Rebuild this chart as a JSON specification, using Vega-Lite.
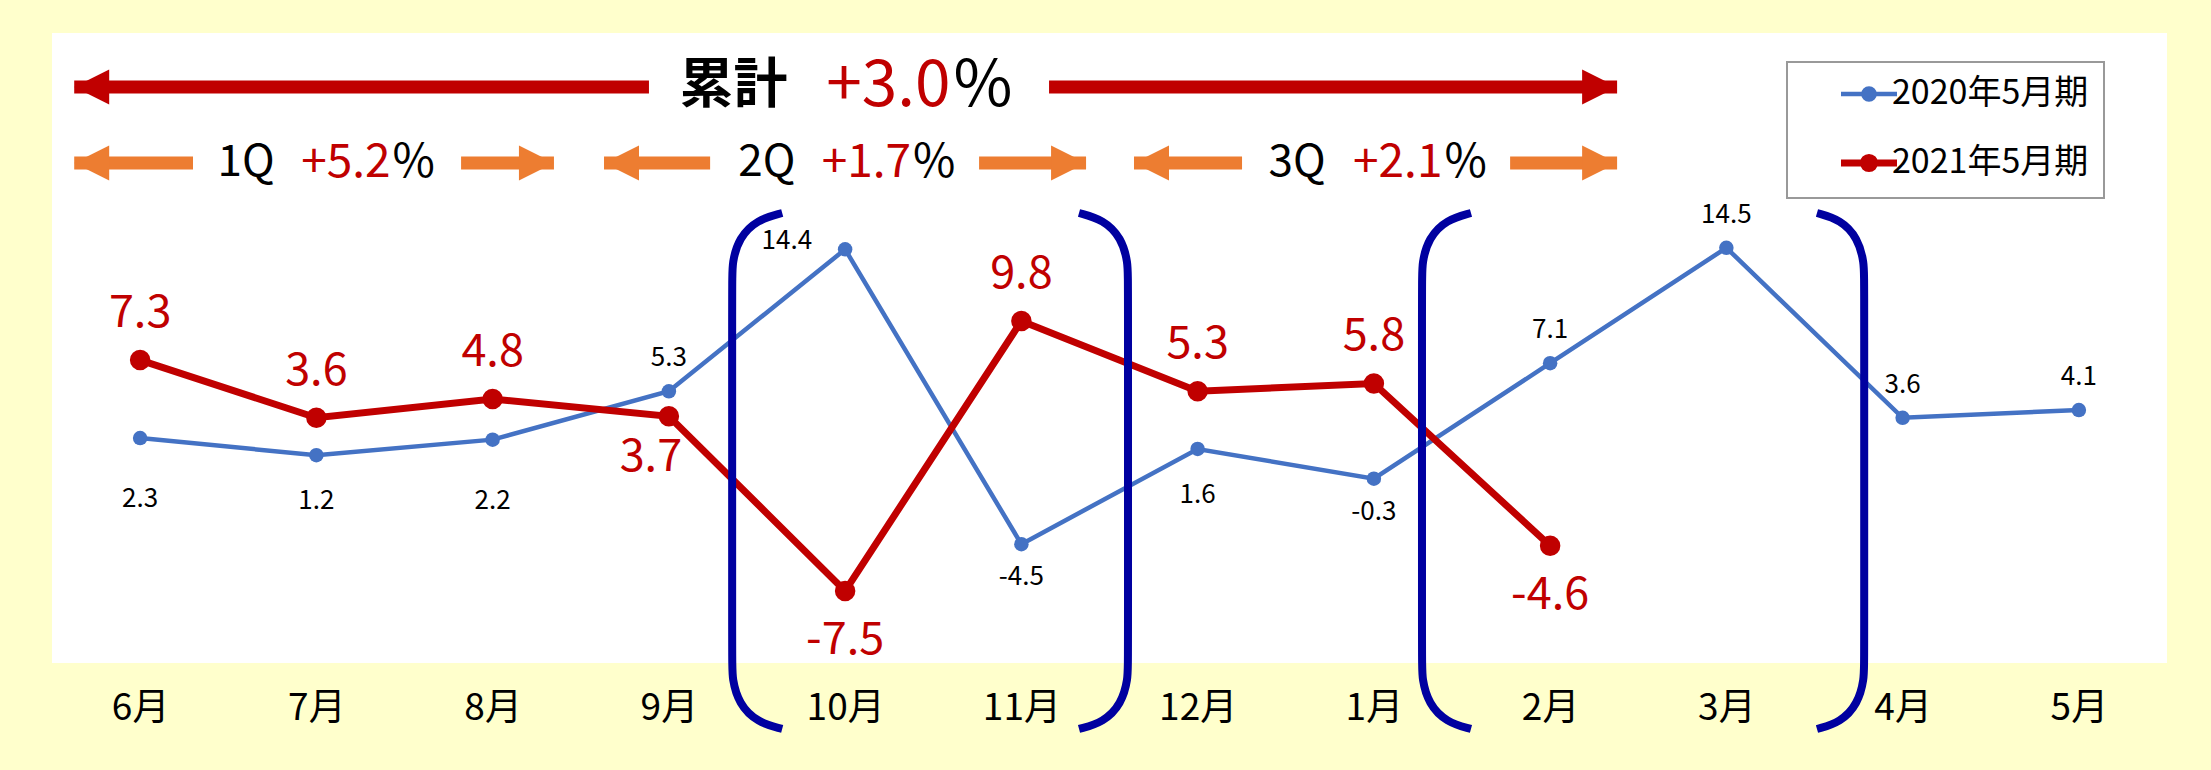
{
  "$schema": "https://vega.github.io/schema/vega-lite/v6.json",
  "width": 2115,
  "height": 630,
  "autosize": {"type": "none"},
  "padding": {"left": 52, "top": 33, "right": 44, "bottom": 107},
  "background": "#FFFFCC",
  "config": {
    "view": {"fill": "#FFFFFF", "stroke": null},
    "font": "Noto Sans CJK JP",
    "text": {"font": "Noto Sans CJK JP"}
  },
  "datasets": {
    "series": [
      {"month": "6月", "i": 0, "series": "2020年5月期", "value": 2.3},
      {"month": "7月", "i": 1, "series": "2020年5月期", "value": 1.2},
      {"month": "8月", "i": 2, "series": "2020年5月期", "value": 2.2},
      {"month": "9月", "i": 3, "series": "2020年5月期", "value": 5.3},
      {"month": "10月", "i": 4, "series": "2020年5月期", "value": 14.4},
      {"month": "11月", "i": 5, "series": "2020年5月期", "value": -4.5},
      {"month": "12月", "i": 6, "series": "2020年5月期", "value": 1.6},
      {"month": "1月", "i": 7, "series": "2020年5月期", "value": -0.3},
      {"month": "2月", "i": 8, "series": "2020年5月期", "value": 7.1},
      {"month": "3月", "i": 9, "series": "2020年5月期", "value": 14.5},
      {"month": "4月", "i": 10, "series": "2020年5月期", "value": 3.6},
      {"month": "5月", "i": 11, "series": "2020年5月期", "value": 4.1},
      {"month": "6月", "i": 0, "series": "2021年5月期", "value": 7.3},
      {"month": "7月", "i": 1, "series": "2021年5月期", "value": 3.6},
      {"month": "8月", "i": 2, "series": "2021年5月期", "value": 4.8},
      {"month": "9月", "i": 3, "series": "2021年5月期", "value": 3.7},
      {"month": "10月", "i": 4, "series": "2021年5月期", "value": -7.5},
      {"month": "11月", "i": 5, "series": "2021年5月期", "value": 9.8},
      {"month": "12月", "i": 6, "series": "2021年5月期", "value": 5.3},
      {"month": "1月", "i": 7, "series": "2021年5月期", "value": 5.8},
      {"month": "2月", "i": 8, "series": "2021年5月期", "value": -4.6}
    ],
    "arrows": [
      {"g": "total", "dir": "left", "tip": -0.374, "end": 2.887, "y": 24.81},
      {"g": "total", "dir": "right", "tip": 8.38, "end": 5.157, "y": 24.81},
      {"g": "quarter", "dir": "left", "tip": -0.374, "end": 0.3, "y": 19.94},
      {"g": "quarter", "dir": "right", "tip": 2.348, "end": 1.821, "y": 19.94},
      {"g": "quarter", "dir": "left", "tip": 2.632, "end": 3.234, "y": 19.94},
      {"g": "quarter", "dir": "right", "tip": 5.367, "end": 4.76, "y": 19.94},
      {"g": "quarter", "dir": "left", "tip": 5.639, "end": 6.252, "y": 19.94},
      {"g": "quarter", "dir": "right", "tip": 8.38, "end": 7.773, "y": 19.94}
    ],
    "arrowText": [
      {"g": "total", "part": "label", "text": "累計", "x": 3.367, "y": 24.81},
      {"g": "total", "part": "value", "text": "+3.0", "x": 4.598, "y": 24.81},
      {"g": "total", "part": "pct", "text": "%", "x": 4.615, "y": 24.81},
      {"g": "quarter", "part": "label", "text": "1Q", "x": 0.601, "y": 19.94},
      {"g": "quarter", "part": "value", "text": "+5.2", "x": 1.421, "y": 19.94},
      {"g": "quarter", "part": "pct", "text": "%", "x": 1.432, "y": 19.94},
      {"g": "quarter", "part": "label", "text": "2Q", "x": 3.556, "y": 19.94},
      {"g": "quarter", "part": "value", "text": "+1.7", "x": 4.374, "y": 19.94},
      {"g": "quarter", "part": "pct", "text": "%", "x": 4.385, "y": 19.94},
      {"g": "quarter", "part": "label", "text": "3Q", "x": 6.564, "y": 19.94},
      {"g": "quarter", "part": "value", "text": "+2.1", "x": 7.389, "y": 19.94},
      {"g": "quarter", "part": "pct", "text": "%", "x": 7.401, "y": 19.94}
    ],
    "brackets": [
      {"b": "A", "k": 0, "x": 3.643, "y": 16.73},
      {"b": "A", "k": 1, "x": 3.501, "y": 16.3},
      {"b": "A", "k": 2, "x": 3.397, "y": 15.13},
      {"b": "A", "k": 3, "x": 3.359, "y": 13.53},
      {"b": "A", "k": 4, "x": 3.359, "y": 12.44},
      {"b": "A", "k": 5, "x": 3.359, "y": -12.05},
      {"b": "A", "k": 6, "x": 3.359, "y": -13.14},
      {"b": "A", "k": 7, "x": 3.397, "y": -14.74},
      {"b": "A", "k": 8, "x": 3.501, "y": -15.92},
      {"b": "A", "k": 9, "x": 3.643, "y": -16.35},
      {"b": "B", "k": 0, "x": 5.327, "y": 16.73},
      {"b": "B", "k": 1, "x": 5.466, "y": 16.3},
      {"b": "B", "k": 2, "x": 5.568, "y": 15.13},
      {"b": "B", "k": 3, "x": 5.605, "y": 13.53},
      {"b": "B", "k": 4, "x": 5.605, "y": 12.44},
      {"b": "B", "k": 5, "x": 5.605, "y": -12.05},
      {"b": "B", "k": 6, "x": 5.605, "y": -13.14},
      {"b": "B", "k": 7, "x": 5.568, "y": -14.74},
      {"b": "B", "k": 8, "x": 5.466, "y": -15.92},
      {"b": "B", "k": 9, "x": 5.327, "y": -16.35},
      {"b": "C", "k": 0, "x": 7.551, "y": 16.73},
      {"b": "C", "k": 1, "x": 7.412, "y": 16.3},
      {"b": "C", "k": 2, "x": 7.31, "y": 15.13},
      {"b": "C", "k": 3, "x": 7.273, "y": 13.53},
      {"b": "C", "k": 4, "x": 7.273, "y": 12.44},
      {"b": "C", "k": 5, "x": 7.273, "y": -12.05},
      {"b": "C", "k": 6, "x": 7.273, "y": -13.14},
      {"b": "C", "k": 7, "x": 7.31, "y": -14.74},
      {"b": "C", "k": 8, "x": 7.412, "y": -15.92},
      {"b": "C", "k": 9, "x": 7.551, "y": -16.35},
      {"b": "D", "k": 0, "x": 9.514, "y": 16.73},
      {"b": "D", "k": 1, "x": 9.648, "y": 16.3},
      {"b": "D", "k": 2, "x": 9.746, "y": 15.13},
      {"b": "D", "k": 3, "x": 9.782, "y": 13.53},
      {"b": "D", "k": 4, "x": 9.782, "y": 12.44},
      {"b": "D", "k": 5, "x": 9.782, "y": -12.05},
      {"b": "D", "k": 6, "x": 9.782, "y": -13.14},
      {"b": "D", "k": 7, "x": 9.746, "y": -14.74},
      {"b": "D", "k": 8, "x": 9.648, "y": -15.92},
      {"b": "D", "k": 9, "x": 9.514, "y": -16.35}
    ]
  },
  "layer": [
    {
      "data": {"values": [{"i": 0, "v": 0}]},
      "mark": {"type": "rule", "color": "#000000", "strokeWidth": 2},
      "encoding": {
        "x": {
          "field": "i", "type": "quantitative",
          "scale": {"domain": [-0.5, 11.5], "nice": false, "zero": false},
          "axis": {
            "values": [0, 1, 2, 3, 4, 5, 6, 7, 8, 9, 10, 11],
            "labelExpr": "['6月','7月','8月','9月','10月','11月','12月','1月','2月','3月','4月','5月'][datum.value]",
            "title": null, "domain": false, "ticks": false, "grid": false,
            "labelFontSize": 37, "labelFont": "Noto Sans CJK JP", "labelColor": "#000000",
            "labelPadding": 45, "labelBaseline": "middle", "labelFlush": false, "labelOverlap": false
          }
        },
        "y": {"field": "v", "type": "quantitative", "scale": {"domain": [-12.12, 28.27], "nice": false, "zero": false}, "axis": null},
        "x2": {"datum": 0}
      }
    },
    {
      "data": {"name": "series"},
      "transform": [{"filter": {"field": "series", "equal": "2020年5月期"}}],
      "mark": {"type": "line", "strokeWidth": 4.5, "point": {"filled": true, "size": 210, "opacity": 1}},
      "encoding": {
        "x": {"field": "i", "type": "quantitative"},
        "y": {"field": "value", "type": "quantitative", "axis": null},
        "color": {
          "field": "series", "type": "nominal",
          "scale": {"domain": ["2020年5月期", "2021年5月期"], "range": ["#4472C4", "#C00000"]},
          "legend": {
            "orient": "none", "legendX": 1735, "legendY": 29, "title": null,
            "padding": 15, "symbolOffset": 50, "labelOffset": 6, "rowPadding": 32,
            "labelFont": "Noto Sans CJK JP", "labelFontSize": 34, "labelColor": "#000000", "labelLimit": 400,
            "strokeColor": "#999999", "fillColor": "#FFFFFF",
            "symbolType": "M-1,0L1,0M0.2,0A0.2,0.2,0,1,1,-0.2,0A0.2,0.2,0,1,1,0.2,0Z",
            "symbolSize": 3136,
            "encode": {
              "legend": {"update": {"strokeWidth": {"value": 2}}},
              "symbols": {"update": {
                "fill": {"scale": "color", "field": "value"},
                "stroke": {"scale": "color", "field": "value"},
                "strokeWidth": {"signal": "datum.value === '2021年5月期' ? 7 : 4.5"},
                "opacity": {"value": 1}
              }}
            }
          }
        }
      }
    },
    {
      "data": {"name": "series"},
      "transform": [{"filter": {"field": "series", "equal": "2021年5月期"}}],
      "mark": {"type": "line", "strokeWidth": 7, "point": {"filled": true, "size": 420, "opacity": 1}},
      "encoding": {
        "x": {"field": "i", "type": "quantitative"},
        "y": {"field": "value", "type": "quantitative", "axis": null},
        "color": {"field": "series", "type": "nominal"}
      }
    },
    {
      "data": {"name": "series"},
      "transform": [{"filter": {"and": [{"field": "series", "equal": "2020年5月期"}, {"field": "i", "oneOf": [3, 8, 9, 10, 11]}]}}],
      "mark": {"type": "text", "fontSize": 26, "color": "#000000", "baseline": "middle", "dy": -33},
      "encoding": {"x": {"field": "i", "type": "quantitative"}, "y": {"field": "value", "type": "quantitative", "axis": null}, "text": {"field": "value", "type": "nominal"}}
    },
    {
      "data": {"name": "series"},
      "transform": [{"filter": {"and": [{"field": "series", "equal": "2020年5月期"}, {"field": "i", "oneOf": [5, 7]}]}}],
      "mark": {"type": "text", "fontSize": 26, "color": "#000000", "baseline": "middle", "dy": 33},
      "encoding": {"x": {"field": "i", "type": "quantitative"}, "y": {"field": "value", "type": "quantitative", "axis": null}, "text": {"field": "value", "type": "nominal"}}
    },
    {
      "data": {"name": "series"},
      "transform": [{"filter": {"and": [{"field": "series", "equal": "2020年5月期"}, {"field": "i", "oneOf": [0, 2]}]}}],
      "mark": {"type": "text", "fontSize": 26, "color": "#000000", "baseline": "middle", "dy": 61},
      "encoding": {"x": {"field": "i", "type": "quantitative"}, "y": {"field": "value", "type": "quantitative", "axis": null}, "text": {"field": "value", "type": "nominal"}}
    },
    {
      "data": {"name": "series"},
      "transform": [{"filter": {"and": [{"field": "series", "equal": "2020年5月期"}, {"field": "i", "oneOf": [1, 6]}]}}],
      "mark": {"type": "text", "fontSize": 26, "color": "#000000", "baseline": "middle", "dy": 46},
      "encoding": {"x": {"field": "i", "type": "quantitative"}, "y": {"field": "value", "type": "quantitative", "axis": null}, "text": {"field": "value", "type": "nominal"}}
    },
    {
      "data": {"name": "series"},
      "transform": [{"filter": {"and": [{"field": "series", "equal": "2020年5月期"}, {"field": "i", "oneOf": [4]}]}}],
      "mark": {"type": "text", "fontSize": 26, "color": "#000000", "baseline": "middle", "align": "right", "dx": -33, "dy": -8},
      "encoding": {"x": {"field": "i", "type": "quantitative"}, "y": {"field": "value", "type": "quantitative", "axis": null}, "text": {"field": "value", "type": "nominal"}}
    },
    {
      "data": {"name": "series"},
      "transform": [{"filter": {"and": [{"field": "series", "equal": "2021年5月期"}, {"field": "i", "oneOf": [0, 1, 2, 5, 6, 7]}]}}],
      "mark": {"type": "text", "fontSize": 45, "color": "#C00000", "baseline": "middle", "dy": -47},
      "encoding": {"x": {"field": "i", "type": "quantitative"}, "y": {"field": "value", "type": "quantitative", "axis": null}, "text": {"field": "value", "type": "nominal"}}
    },
    {
      "data": {"name": "series"},
      "transform": [{"filter": {"and": [{"field": "series", "equal": "2021年5月期"}, {"field": "i", "oneOf": [4, 8]}]}}],
      "mark": {"type": "text", "fontSize": 45, "color": "#C00000", "baseline": "middle", "dy": 49},
      "encoding": {"x": {"field": "i", "type": "quantitative"}, "y": {"field": "value", "type": "quantitative", "axis": null}, "text": {"field": "value", "type": "nominal"}}
    },
    {
      "data": {"name": "series"},
      "transform": [{"filter": {"and": [{"field": "series", "equal": "2021年5月期"}, {"field": "i", "oneOf": [3]}]}}],
      "mark": {"type": "text", "fontSize": 45, "color": "#C00000", "baseline": "middle", "dx": -18, "dy": 41},
      "encoding": {"x": {"field": "i", "type": "quantitative"}, "y": {"field": "value", "type": "quantitative", "axis": null}, "text": {"field": "value", "type": "nominal"}}
    },
    {
      "data": {"name": "arrows"},
      "transform": [{"filter": {"field": "g", "equal": "total"}}],
      "mark": {"type": "rule", "color": "#C00000", "strokeWidth": 13, "strokeCap": "butt"},
      "encoding": {"x": {"field": "tip", "type": "quantitative"}, "x2": {"field": "end"}, "y": {"field": "y", "type": "quantitative", "axis": null}}
    },
    {
      "data": {"name": "arrows"},
      "transform": [{"filter": {"field": "g", "equal": "quarter"}}],
      "mark": {"type": "rule", "color": "#ED7D31", "strokeWidth": 13, "strokeCap": "butt"},
      "encoding": {"x": {"field": "tip", "type": "quantitative"}, "x2": {"field": "end"}, "y": {"field": "y", "type": "quantitative", "axis": null}}
    },
    {
      "data": {"name": "arrows"},
      "transform": [{"filter": {"field": "g", "equal": "total"}}],
      "mark": {"type": "point", "filled": true, "color": "#C00000", "size": 1225, "opacity": 1, "strokeWidth": 0},
      "encoding": {
        "x": {"field": "tip", "type": "quantitative"},
        "y": {"field": "y", "type": "quantitative", "axis": null},
        "shape": {"field": "dir", "type": "nominal", "scale": {"domain": ["left", "right"], "range": ["M0,0L2,-1L2,1Z", "M0,0L-2,-1L-2,1Z"]}, "legend": null}
      }
    },
    {
      "data": {"name": "arrows"},
      "transform": [{"filter": {"field": "g", "equal": "quarter"}}],
      "mark": {"type": "point", "filled": true, "color": "#ED7D31", "size": 1225, "opacity": 1, "strokeWidth": 0},
      "encoding": {
        "x": {"field": "tip", "type": "quantitative"},
        "y": {"field": "y", "type": "quantitative", "axis": null},
        "shape": {"field": "dir", "type": "nominal", "legend": null}
      }
    },
    {
      "data": {"name": "arrowText"},
      "transform": [{"filter": {"and": [{"field": "g", "equal": "total"}, {"field": "part", "equal": "label"}]}}],
      "mark": {"type": "text", "fontSize": 54, "fontWeight": "bold", "color": "#000000", "baseline": "middle"},
      "encoding": {"x": {"field": "x", "type": "quantitative"}, "y": {"field": "y", "type": "quantitative", "axis": null}, "text": {"field": "text"}}
    },
    {
      "data": {"name": "arrowText"},
      "transform": [{"filter": {"and": [{"field": "g", "equal": "total"}, {"field": "part", "equal": "value"}]}}],
      "mark": {"type": "text", "fontSize": 64, "color": "#C00000", "baseline": "middle", "align": "right"},
      "encoding": {"x": {"field": "x", "type": "quantitative"}, "y": {"field": "y", "type": "quantitative", "axis": null}, "text": {"field": "text"}}
    },
    {
      "data": {"name": "arrowText"},
      "transform": [{"filter": {"and": [{"field": "g", "equal": "total"}, {"field": "part", "equal": "pct"}]}}],
      "mark": {"type": "text", "fontSize": 64, "color": "#000000", "baseline": "middle", "align": "left"},
      "encoding": {"x": {"field": "x", "type": "quantitative"}, "y": {"field": "y", "type": "quantitative", "axis": null}, "text": {"field": "text"}}
    },
    {
      "data": {"name": "arrowText"},
      "transform": [{"filter": {"and": [{"field": "g", "equal": "quarter"}, {"field": "part", "equal": "label"}]}}],
      "mark": {"type": "text", "fontSize": 44, "color": "#000000", "baseline": "middle"},
      "encoding": {"x": {"field": "x", "type": "quantitative"}, "y": {"field": "y", "type": "quantitative", "axis": null}, "text": {"field": "text"}}
    },
    {
      "data": {"name": "arrowText"},
      "transform": [{"filter": {"and": [{"field": "g", "equal": "quarter"}, {"field": "part", "equal": "value"}]}}],
      "mark": {"type": "text", "fontSize": 46, "color": "#C00000", "baseline": "middle", "align": "right"},
      "encoding": {"x": {"field": "x", "type": "quantitative"}, "y": {"field": "y", "type": "quantitative", "axis": null}, "text": {"field": "text"}}
    },
    {
      "data": {"name": "arrowText"},
      "transform": [{"filter": {"and": [{"field": "g", "equal": "quarter"}, {"field": "part", "equal": "pct"}]}}],
      "mark": {"type": "text", "fontSize": 46, "color": "#000000", "baseline": "middle", "align": "left"},
      "encoding": {"x": {"field": "x", "type": "quantitative"}, "y": {"field": "y", "type": "quantitative", "axis": null}, "text": {"field": "text"}}
    },
    {
      "data": {"name": "brackets"},
      "mark": {"type": "line", "interpolate": "basis", "color": "#0000A0", "strokeWidth": 8, "strokeCap": "butt"},
      "encoding": {
        "x": {"field": "x", "type": "quantitative"},
        "y": {"field": "y", "type": "quantitative", "axis": null},
        "detail": {"field": "b"},
        "order": {"field": "k", "type": "quantitative"}
      }
    }
  ]
}
